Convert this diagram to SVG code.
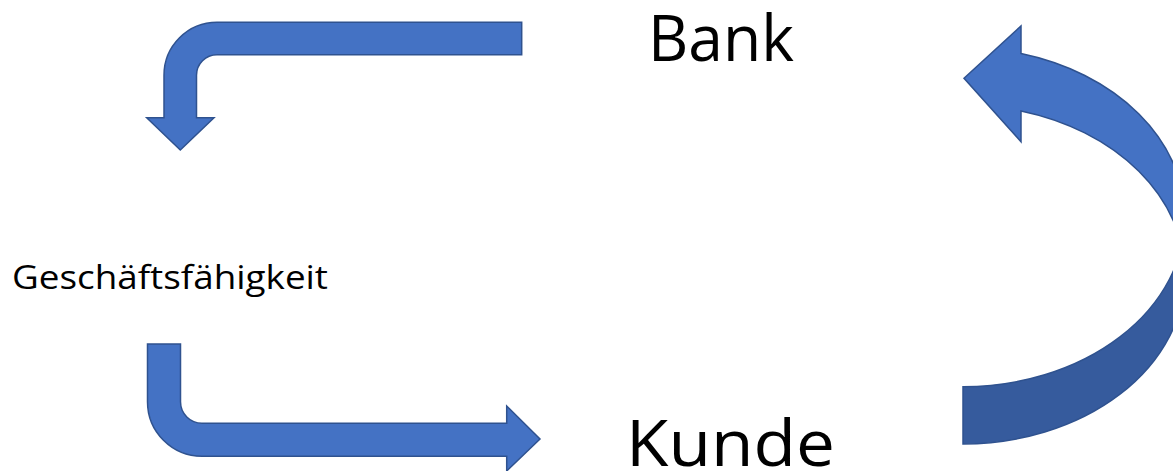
<svg xmlns="http://www.w3.org/2000/svg" width="1173" height="471" viewBox="0 0 1173 471">
  <style>
    .lbl { font-family: "Open Sans", "Noto Sans", "Liberation Sans", sans-serif; fill: #000000; }
    .arrow { fill: #4472C4; stroke: #2F528F; stroke-width: 1.5; stroke-linejoin: miter; }
    .back { fill: #365B9D; stroke: #2F528F; stroke-width: 1.5; }
  </style>
  <rect width="1173" height="471" fill="#FFFFFF"/>
  <g id="connectors">
    <path id="bank-to-geschaeft" class="arrow" d="M 521.7,22.3 L 217,22.3 A 53 53 0 0 0 164,75.3 L 164,117.7 L 146.7,117.7 L 180.3,150 L 214,117.7 L 196.5,117.7 L 196.5,75.3 A 20.5 20.5 0 0 1 217,54.8 L 521.7,54.8 Z"/>
    <path id="geschaeft-to-kunde" class="arrow" d="M 147.5,344 L 180.5,344 L 180.5,401.8 A 21.5 21.5 0 0 0 202,423.3 L 506.7,423.3 L 506.7,406 L 540,439 L 506.7,471 L 506.7,456.3 L 202,456.3 A 54.5 54.5 0 0 1 147.5,401.8 Z"/>
    <g id="kunde-to-bank">
      <path class="back" d="M 963,386.7 A 222 170 0 0 0 1185,216.7 L 1185,274 A 222 170 0 0 1 963,444 Z"/>
      <path class="arrow" d="M 1021,53.5 A 222 170 0 0 1 1185,216.7 L 1185,274 A 222 170 0 0 0 1021,111 L 1021,141.7 L 964,78.3 L 1021,26 Z"/>
    </g>
  </g>
  <g id="node-bank">
    <text class="lbl" x="648" y="61" font-size="64.5" textLength="146" lengthAdjust="spacingAndGlyphs">Bank</text>
  </g>
  <g id="node-geschaeftsfaehigkeit">
    <text class="lbl" x="12" y="289" font-size="33" textLength="316" lengthAdjust="spacingAndGlyphs">Geschäftsfähigkeit</text>
  </g>
  <g id="node-kunde">
    <text class="lbl" x="626" y="466" font-size="64.5" textLength="209" lengthAdjust="spacingAndGlyphs">Kunde</text>
  </g>
</svg>
